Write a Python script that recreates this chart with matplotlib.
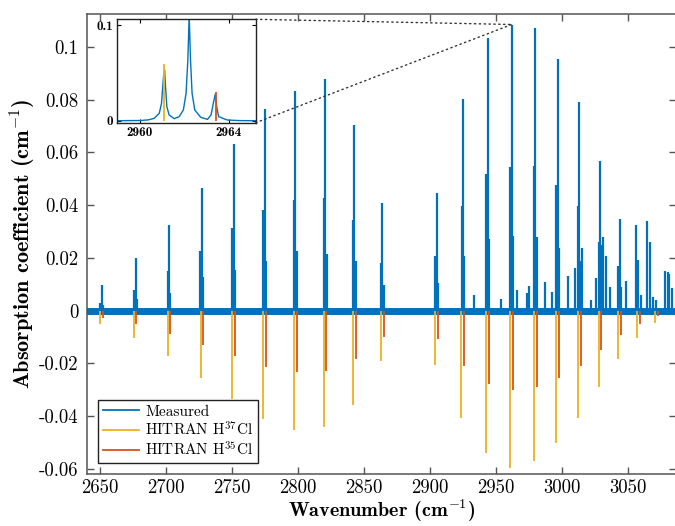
import numpy as np
import matplotlib
matplotlib.use('Agg')
import matplotlib.pyplot as plt
from matplotlib.lines import Line2D
from matplotlib.patches import ConnectionPatch
from matplotlib.ticker import FuncFormatter

# colours (matlab default order)
BLUE = '#0072BD'
YELLOW = '#EDB120'
RED = '#D95319'

# measured peaks (wavenumber, absorption) for the main view
meas_wn = [2650.2, 2651.0, 2652.0,
           2676.0, 2677.0, 2677.8,
           2701.2, 2702.1, 2703.1,
           2726.0, 2726.9, 2727.9,
           2750.1, 2751.1, 2752.1,
           2773.8, 2774.8, 2775.8,
           2796.9, 2797.9, 2799.0,
           2819.6, 2820.6, 2821.7,
           2841.6, 2842.6, 2843.7,
           2862.9, 2863.9, 2865.0,
           2904.2, 2905.2, 2906.3,
           2924.0, 2925.0, 2926.1,
           2933.5,
           2942.8, 2943.9, 2945.0,
           2954.0,
           2961.1, 2962.2, 2963.4,
           2966.1, 2973.4, 2975.2,
           2978.8, 2979.8, 2981.0,
           2987.5, 2992.6,
           2995.9, 2997.0, 2998.2,
           3004.5, 3010.2,
           3012.3, 3013.3, 3014.6, 3015.6,
           3022.2, 3025.7,
           3027.9, 3028.9, 3030.1, 3031.5, 3033.6, 3036.5,
           3042.3, 3044.2, 3045.3, 3048.5,
           3056.3, 3058.1, 3059.9,
           3064.5, 3067.0, 3069.0, 3071.8,
           3078.5, 3080.3, 3081.6, 3083.4]
meas_abs = [0.003, 0.0096, 0.002,
            0.0078, 0.0200, 0.0045,
            0.0152, 0.0326, 0.0068,
            0.0228, 0.0465, 0.0127,
            0.0314, 0.0632, 0.0156,
            0.0383, 0.0765, 0.0188,
            0.0421, 0.0834, 0.0228,
            0.0427, 0.0877, 0.0215,
            0.0345, 0.0704, 0.0188,
            0.0179, 0.0408, 0.0096,
            0.0209, 0.0446, 0.0106,
            0.0398, 0.0803, 0.0209,
            0.0060,
            0.0519, 0.1034, 0.0270,
            0.0043,
            0.0544, 0.1082, 0.0282,
            0.0080, 0.0068, 0.0094,
            0.0547, 0.1072, 0.0278,
            0.0107, 0.0070,
            0.0475, 0.0956, 0.0238,
            0.0131, 0.0163,
            0.0395, 0.0792, 0.0187, 0.0238,
            0.0040, 0.0122,
            0.0261, 0.0569, 0.0250, 0.0280, 0.0206, 0.0091,
            0.0168, 0.0349, 0.0090, 0.0112,
            0.0326, 0.0193, 0.0058,
            0.0339, 0.0262, 0.0053, 0.0042,
            0.0150, 0.0146, 0.0140, 0.0086]

# HITRAN line intensities (drawn downward in the main view)
h37_wn = [2650.2, 2676.0, 2701.3, 2726.3, 2750.1, 2773.8, 2797.1, 2819.8,
          2841.8, 2863.0, 2904.2, 2923.6, 2942.8, 2961.1, 2979.0, 2995.9,
          3012.4, 3028.0, 3042.9, 3057.1, 3070.7]
h37_int = [0.0052, 0.0102, 0.0172, 0.0257, 0.0335, 0.0411, 0.0451, 0.0442,
           0.0358, 0.0192, 0.0206, 0.0408, 0.0541, 0.0595, 0.0570, 0.0503,
           0.0408, 0.0291, 0.0184, 0.0102, 0.0048]
h35_wn = [2652.0, 2677.5, 2703.1, 2727.8, 2752.1, 2775.8, 2799.1, 2821.6,
          2843.8, 2865.1, 2906.2, 2925.9, 2944.9, 2963.4, 2981.0, 2998.2,
          3014.6, 3030.1, 3045.2, 3059.3, 3073.0]
h35_int = [0.0026, 0.0052, 0.0087, 0.0131, 0.0173, 0.0212, 0.0232, 0.0228,
           0.0184, 0.0100, 0.0106, 0.0209, 0.0277, 0.0300, 0.0291, 0.0257,
           0.0209, 0.0149, 0.0093, 0.0052, 0.0020]

# measured trace in the zoom inset
inset_wn = [2959.0, 2959.5, 2960.06, 2960.4, 2960.65, 2960.88, 2960.98,
            2961.07, 2961.12, 2961.16, 2961.22, 2961.32, 2961.55, 2961.77,
            2961.96, 2962.08, 2962.16, 2962.22, 2962.28, 2962.35, 2962.47,
            2962.74, 2963.04, 2963.20, 2963.30, 2963.39, 2963.45, 2963.54,
            2963.93, 2964.5, 2965.2]
inset_abs = [0.0003, 0.0004, 0.0005, 0.0012, 0.0028, 0.0080, 0.0184,
             0.0462, 0.0531, 0.0358, 0.0149, 0.0063, 0.0024, 0.0045,
             0.0115, 0.0288, 0.0635, 0.1100, 0.0635, 0.0288, 0.0115,
             0.0038, 0.0017, 0.0063, 0.0184, 0.0281, 0.0149, 0.0045,
             0.0010, 0.0004, 0.0003]

plt.rcParams['mathtext.fontset'] = 'cm'
plt.rcParams['axes.unicode_minus'] = False
plt.rcParams['font.family'] = 'cmr10'

fig = plt.figure(figsize=(6.75, 5.26), dpi=100)
ax = fig.add_axes([0.1289, 0.099, 0.8733, 0.875])

# measured: noisy baseline band plus the absorption peaks
ax.axhline(0, color=BLUE, lw=5.0, zorder=2)
ax.vlines(meas_wn, 0, meas_abs, color=BLUE, lw=1.6, zorder=3)
ax.vlines(h37_wn, 0, -np.array(h37_int), color=YELLOW, lw=1.3, zorder=4)
ax.vlines(h35_wn, 0, -np.array(h35_int), color=RED, lw=1.3, zorder=4)

ax.set_xlim(2640, 3087)
ax.set_ylim(-0.0619, 0.1126)
ax.set_xticks(np.arange(2650, 3051, 50))
ax.set_yticks([-0.06, -0.04, -0.02, 0, 0.02, 0.04, 0.06, 0.08, 0.1])
ax.yaxis.set_major_formatter(FuncFormatter(lambda v, p: '%g' % round(v, 3)))
ax.tick_params(direction='in', top=True, right=True, length=5, width=1,
               color='#555555', labelsize=13.5, pad=6)
ax.tick_params(axis='x', pad=4)
for s in ax.spines.values():
    s.set_color('#555555')
    s.set_linewidth(1.1)

ax.set_xlabel(r'Wavenumber (cm$^{-1}$)', fontfamily='cmb10', fontsize=14.5,
              labelpad=0)
ax.set_ylabel(r'Absorption coefficient (cm$^{-1}$)', fontfamily='cmb10',
              fontsize=16, labelpad=1)

handles = [Line2D([], [], color=BLUE, lw=1.3),
           Line2D([], [], color=YELLOW, lw=1.3),
           Line2D([], [], color=RED, lw=1.3)]
labels = ['Measured', r'HITRAN H$^{37}$Cl', r'HITRAN H$^{35}$Cl']
leg = ax.legend(handles, labels, loc='lower left', bbox_to_anchor=(0.0187, 0.023),
                borderaxespad=0, fontsize=11, handlelength=2.4,
                handletextpad=0.4, labelspacing=0.12, borderpad=0.3,
                fancybox=False, framealpha=1, edgecolor='#222222')
leg.get_frame().set_linewidth(1.0)

# zoom inset around 2962 cm-1
axin = fig.add_axes([0.1738, 0.7667, 0.205, 0.1966])
axin.plot(inset_wn, inset_abs, color=BLUE, lw=1.0, zorder=2)
axin.vlines(h37_wn, 0, h37_int, color=YELLOW, lw=1.3, zorder=3)
axin.vlines(h35_wn, 0, h35_int, color=RED, lw=1.3, zorder=3)
axin.set_xlim(2959.0, 2965.2)
axin.set_ylim(-0.0018, 0.106)
axin.set_xticks([2960, 2964])
axin.set_yticks([0, 0.1])
axin.yaxis.set_major_formatter(FuncFormatter(lambda v, p: '%g' % v))
axin.tick_params(direction='in', top=True, right=True, length=3, width=0.8,
                 labelsize=9.5, pad=3)
for lab in axin.get_xticklabels() + axin.get_yticklabels():
    lab.set_fontfamily('cmb10')
for s in axin.spines.values():
    s.set_color('#222222')
    s.set_linewidth(1.0)

# dotted lines from the inset to the peak it magnifies
for corner in [(1, 1), (1, 0)]:
    con = ConnectionPatch(xyA=corner, coordsA=axin.transAxes,
                          xyB=(2962.1, 0.1085), coordsB=ax.transData,
                          linestyle=(0, (1, 2.5)), color='#333333', lw=1.0)
    fig.add_artist(con)

fig.savefig('out.png', dpi=100)
